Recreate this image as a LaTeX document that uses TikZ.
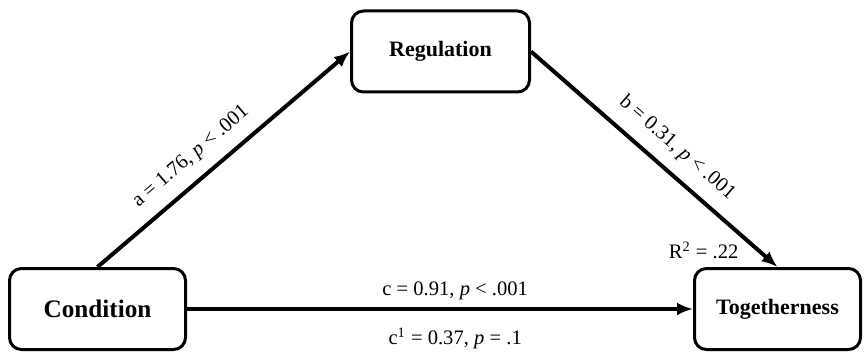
\documentclass[tikz,border=0pt]{standalone}
\usepackage{fontspec}
\setmainfont{Liberation Serif}
\usetikzlibrary{positioning,arrows.meta}

\begin{document}
\begin{tikzpicture}[x=0.5pt, y=0.5pt,
			var/.style={draw, line width=1.5pt, rounded corners=6pt, minimum height=40.5pt, align=center, font=\fontsize{11}{13}\selectfont\bfseries},
			arrow/.style={-{Latex[length=8pt,width=6.5pt]}, line width=2pt},
			coef/.style={font=\fontsize{10.3}{12}\selectfont}
		]
		\useasboundingbox (0,0) rectangle (865,353);

		% Variables
		\node[var, minimum width=88pt, font=\fontsize{12.6}{15}\selectfont\bfseries] (cond) at (97.5,44) {Condition};
		\node[var, minimum width=89pt] (reg) at (440.5,301.5) {Regulation};
		\node[var, minimum width=83pt] (tog) at (777.5,44) {Togetherness};

		% Paths
		\draw[arrow] (cond.north) -- node[coef, above=2.7pt, sloped, pos=0.43] (alab) {a = 1.76, \textit{p} < .001} (reg.west);
		\draw[arrow] (reg.east) -- node[coef, above=2.7pt, sloped, pos=0.53] (blab) {b = 0.31, \textit{p} < .001} (tog.north);
		\draw[arrow] (cond.east) -- node[coef, above, pos=0.53] (clab) {c = 0.91, \textit{p} < .001}
			node[coef, below=5pt, pos=0.53] (cplab) {c\textsuperscript{1} = 0.37, \textit{p} = .1} (tog.west);

		% Explained variance
		\node[coef, above left=0.5pt and 16pt of tog.north] (rsq) {R\textsuperscript{2} = .22};
	\end{tikzpicture}
\end{document}
